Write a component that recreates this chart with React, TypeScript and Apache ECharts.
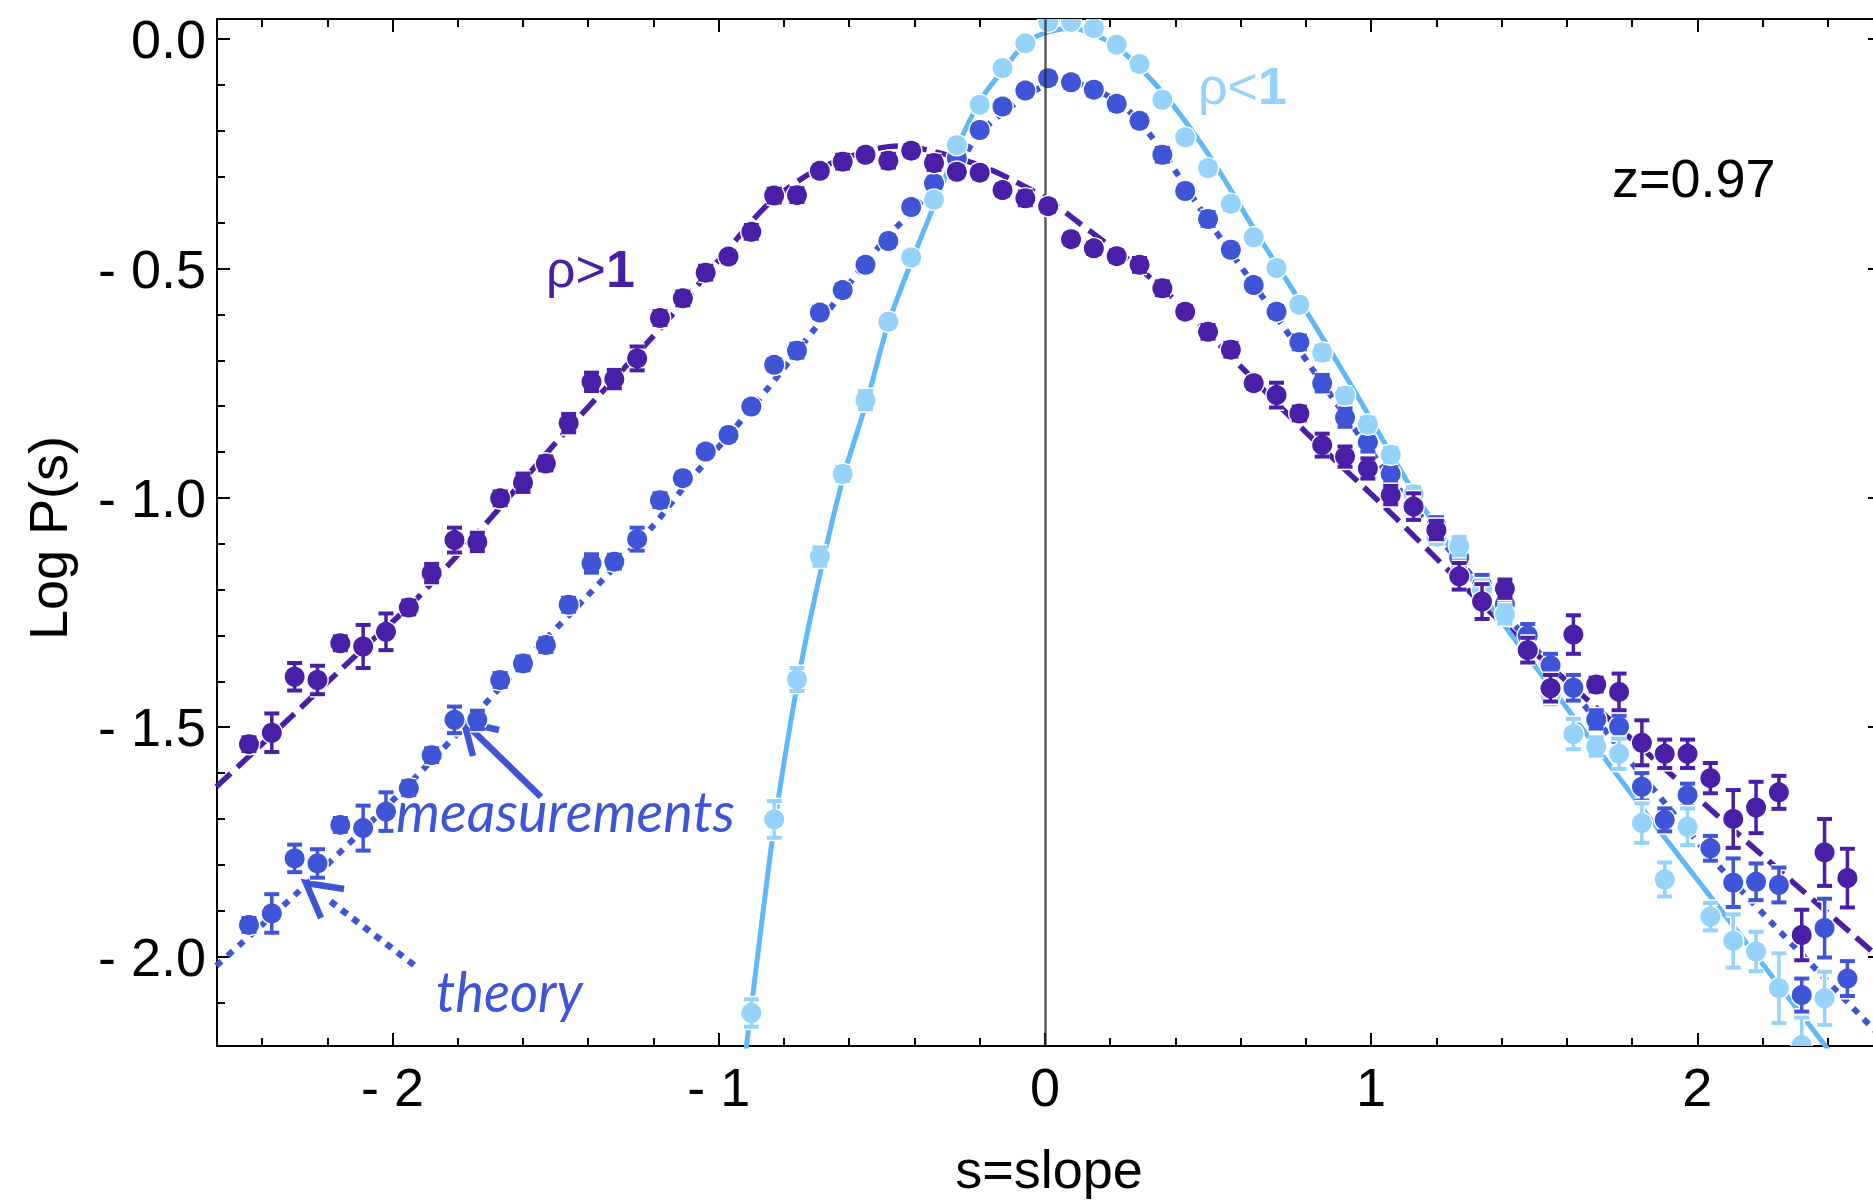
import React, { useEffect, useRef } from 'react';
import * as echarts from 'echarts';

// ---------- data ----------
const slopes = [
  -2.44, -2.37, -2.30, -2.23, -2.16, -2.09, -2.02, -1.95, -1.88, -1.81,
  -1.74, -1.67, -1.60, -1.53, -1.46, -1.39, -1.32, -1.25, -1.18, -1.11,
  -1.04, -0.97, -0.90, -0.83, -0.76, -0.69, -0.62, -0.55, -0.48, -0.41,
  -0.34, -0.27, -0.20, -0.13, -0.06, 0.01, 0.08, 0.15, 0.22, 0.29,
  0.36, 0.43, 0.50, 0.57, 0.64, 0.71, 0.78, 0.85, 0.92, 0.99,
  1.06, 1.13, 1.20, 1.27, 1.34, 1.41, 1.48, 1.55, 1.62, 1.69,
  1.76, 1.83, 1.90, 1.97, 2.04, 2.11, 2.18, 2.25, 2.32, 2.39,
  2.46,
];

// rho > 1 measurements
const highValues = [
  -1.537, -1.512, -1.390, -1.397, -1.317, -1.324, -1.292, -1.239, -1.164, -1.092,
  -1.096, -1.001, -0.967, -0.925, -0.837, -0.747, -0.741, -0.696, -0.608, -0.565,
  -0.509, -0.474, -0.420, -0.341, -0.340, -0.287, -0.267, -0.252, -0.265, -0.243,
  -0.270, -0.289, -0.291, -0.329, -0.347, -0.364, -0.436, -0.456, -0.473, -0.492,
  -0.543, -0.594, -0.638, -0.677, -0.750, -0.776, -0.816, -0.885, -0.910, -0.936,
  -0.994, -1.019, -1.070, -1.171, -1.226, -1.198, -1.332, -1.415, -1.298, -1.407,
  -1.423, -1.534, -1.558, -1.558, -1.611, -1.700, -1.675, -1.642, -1.953, -1.773,
  -1.829,
];
const highErrors = [
  0.015, 0.042, 0.030, 0.031, 0.015, 0.047, 0.040, 0.015, 0.020, 0.027,
  0.020, 0.015, 0.020, 0.015, 0.020, 0.020, 0.020, 0.026, 0.015, 0.015,
  0.015, 0.012, 0.015, 0.015, 0.015, 0.012, 0.015, 0.012, 0.015, 0.012,
  0.015, 0.012, 0.012, 0.012, 0.015, 0.012, 0.012, 0.012, 0.012, 0.015,
  0.015, 0.012, 0.015, 0.015, 0.012, 0.027, 0.015, 0.025, 0.022, 0.022,
  0.020, 0.029, 0.020, 0.029, 0.038, 0.020, 0.027, 0.029, 0.042, 0.015,
  0.040, 0.049, 0.031, 0.031, 0.033, 0.063, 0.056, 0.036, 0.055, 0.073,
  0.064,
];

// middle (z=0.97) measurements
const midValues = [
  -1.931, -1.906, -1.786, -1.797, -1.713, -1.720, -1.684, -1.633, -1.561, -1.484,
  -1.484, -1.397, -1.361, -1.321, -1.233, -1.143, -1.139, -1.090, -1.005, -0.957,
  -0.899, -0.863, -0.801, -0.710, -0.679, -0.596, -0.547, -0.492, -0.440, -0.366,
  -0.314, -0.259, -0.198, -0.147, -0.112, -0.085, -0.094, -0.110, -0.141, -0.178,
  -0.252, -0.331, -0.392, -0.459, -0.536, -0.594, -0.661, -0.750, -0.825, -0.879,
  -0.948, -0.995, -1.062, -1.130, -1.190, -1.232, -1.300, -1.365, -1.414, -1.483,
  -1.499, -1.630, -1.702, -1.648, -1.764, -1.839, -1.837, -1.844, -2.084, -1.938,
  -2.048,
];
const midErrors = [
  0.015, 0.042, 0.030, 0.031, 0.015, 0.049, 0.042, 0.015, 0.015, 0.029,
  0.020, 0.015, 0.015, 0.015, 0.015, 0.020, 0.015, 0.025, 0.015, 0.012,
  0.012, 0.012, 0.012, 0.012, 0.015, 0.012, 0.012, 0.012, 0.012, 0.012,
  0.012, 0.012, 0.012, 0.012, 0.012, 0.012, 0.012, 0.012, 0.012, 0.012,
  0.015, 0.012, 0.015, 0.012, 0.012, 0.012, 0.015, 0.018, 0.020, 0.020,
  0.020, 0.020, 0.020, 0.022, 0.022, 0.022, 0.025, 0.025, 0.028, 0.020,
  0.024, 0.030, 0.025, 0.025, 0.027, 0.053, 0.040, 0.038, 0.036, 0.064,
  0.038,
];

// rho < 1 measurements (null = outside the plotted range)
const lowValues = [
  null, null, null, null, null, null, null, null, null, null,
  null, null, null, null, null, null, null, null, null, null,
  null, null, -2.123, -1.701, -1.396, -1.128, -0.948, -0.787, -0.616, -0.476,
  -0.350, -0.231, -0.143, -0.063, -0.009, 0.038, 0.038, 0.024, -0.012, -0.054,
  -0.132, -0.214, -0.281, -0.359, -0.432, -0.499, -0.579, -0.683, -0.777, -0.840,
  -0.906, -0.992, -1.085, -1.105, -1.200, -1.254, -1.330, -1.430, -1.515, -1.542,
  -1.558, -1.709, -1.832, -1.717, -1.913, -1.966, -1.989, -2.069, -2.193, -2.091,
  null,
];
const lowErrors = [
  0, 0, 0, 0, 0, 0, 0, 0, 0, 0,
  0, 0, 0, 0, 0, 0, 0, 0, 0, 0,
  0, 0, 0.030, 0.040, 0.025, 0.020, 0.015, 0.020, 0.012, 0.012,
  0.012, 0.012, 0.012, 0.012, 0.012, 0.012, 0.012, 0.012, 0.012, 0.012,
  0.012, 0.012, 0.012, 0.012, 0.012, 0.012, 0.012, 0.015, 0.015, 0.015,
  0.015, 0.015, 0.015, 0.020, 0.020, 0.020, 0.020, 0.020, 0.033, 0.020,
  0.033, 0.043, 0.037, 0.040, 0.030, 0.058, 0.043, 0.076, 0.060, 0.058,
  0,
];

// theory curves
const highTheoryS = [-2.54, -2.3, -2.1, -1.93, -1.7, -1.5, -1.3, -1.12, -0.95, -0.84, -0.7, -0.55, -0.45, -0.34, -0.2, -0.1, 0.01, 0.1, 0.16, 0.29, 0.435, 0.58, 0.8, 1.04, 1.2, 1.37, 1.6, 1.83, 2.2, 2.57];
const highTheoryV = [-1.63, -1.47, -1.335, -1.223, -1.045, -0.88, -0.725, -0.583, -0.44, -0.354, -0.285, -0.245, -0.233, -0.245, -0.275, -0.307, -0.35, -0.398, -0.43, -0.5, -0.594, -0.699, -0.857, -1.019, -1.132, -1.252, -1.40, -1.546, -1.78, -2.01];

const midTheoryS = [-2.54, -2.26, -2.0, -1.8, -1.6, -1.415, -1.2, -1.117, -0.895, -0.75, -0.615, -0.5, -0.403, -0.27, -0.2, -0.1, 0.0, 0.05, 0.12, 0.22, 0.29, 0.36, 0.43, 0.5, 0.57, 0.71, 0.85, 1.088, 1.3, 1.64, 2.05, 2.57];
const midTheoryV = [-2.02, -1.84, -1.66, -1.513, -1.36, -1.223, -1.06, -0.986, -0.801, -0.672, -0.547, -0.445, -0.372, -0.278, -0.205, -0.145, -0.10, -0.092, -0.10, -0.135, -0.18, -0.245, -0.32, -0.395, -0.465, -0.605, -0.75, -0.983, -1.163, -1.441, -1.79, -2.18];

const lowTheoryS = [-0.93, -0.9, -0.86, -0.83, -0.76, -0.7, -0.62, -0.545, -0.48, -0.403, -0.33, -0.265, -0.197, -0.12, -0.054, 0.016, 0.087, 0.15, 0.22, 0.363, 0.506, 0.649, 0.792, 0.935, 1.139, 1.389, 1.6, 1.843, 2.1, 2.395, 2.45];
const lowTheoryV = [-2.28, -2.11, -1.88, -1.715, -1.41, -1.20, -0.96, -0.787, -0.62, -0.474, -0.345, -0.23, -0.132, -0.06, -0.005, 0.017, 0.024, 0.01, -0.016, -0.118, -0.256, -0.423, -0.583, -0.750, -0.997, -1.259, -1.458, -1.688, -1.924, -2.197, -2.25];

// ticks
const xMajorTicks = [-2, -1, 0, 1, 2];
const xMinorTicks = [-2.4, -2.2, -1.8, -1.6, -1.4, -1.2, -0.8, -0.6, -0.4, -0.2, 0.2, 0.4, 0.6, 0.8, 1.2, 1.4, 1.6, 1.8, 2.2, 2.4];
const yMajorTicks = [0, -0.5, -1, -1.5, -2];
const yMinorTicks = [-0.1, -0.2, -0.3, -0.4, -0.6, -0.7, -0.8, -0.9, -1.1, -1.2, -1.3, -1.4, -1.6, -1.7, -1.8, -1.9, -2.1];

// ---------- style ----------
const X_MIN = -2.538;
const X_MAX = 2.563;
const Y_MIN = -2.195;
const Y_MAX = 0.044;

const C_HIGH = '#4a1ea6';
const C_MID = '#3d55d6';
const C_LOW = '#96d3fb';
const C_LOW_LINE = '#5fb8f9';
const FONT = '"Liberation Sans", Arial, Helvetica, sans-serif';

const fmtY = (v: number) => (Math.abs(v) < 1e-9 ? '0.0' : (v < 0 ? '- ' : '') + Math.abs(v).toFixed(1));
const fmtX = (v: number) => (Math.abs(v) < 1e-9 ? '0' : (v < 0 ? '- ' : '') + Math.abs(v).toFixed(0));

function xAxisDef(position: string, ticks: number[], len: number, showLine: boolean, showLabel: boolean) {
  return {
    type: 'value',
    position,
    min: X_MIN,
    max: X_MAX,
    splitLine: { show: false },
    axisLine: { show: showLine, onZero: false, lineStyle: { color: '#000', width: 2 } },
    axisTick: { show: true, inside: true, length: len, customValues: ticks, lineStyle: { color: '#000', width: 2 } },
    axisLabel: {
      show: showLabel,
      customValues: ticks,
      formatter: fmtX,
      fontSize: 54,
      fontFamily: FONT,
      color: '#000',
      margin: 14,
    },
  };
}

function yAxisDef(position: string, ticks: number[], len: number, showLine: boolean, showLabel: boolean) {
  return {
    type: 'value',
    position,
    min: Y_MIN,
    max: Y_MAX,
    splitLine: { show: false },
    axisLine: { show: showLine, onZero: false, lineStyle: { color: '#000', width: 2 } },
    axisTick: { show: true, inside: true, length: len, customValues: ticks, lineStyle: { color: '#000', width: 2 } },
    axisLabel: {
      show: showLabel,
      customValues: ticks,
      formatter: fmtY,
      fontSize: 54,
      fontFamily: FONT,
      color: '#000',
      margin: 11,
      padding: [0, 0, 5, 0],
    },
  };
}

function theorySeries(name: string, S: number[], V: number[], color: string, dash: any, width: number) {
  return {
    type: 'line',
    name,
    data: S.map((s, i) => [s, V[i]]),
    xAxisIndex: 0,
    yAxisIndex: 0,
    showSymbol: false,
    symbol: 'none',
    smooth: 0.3,
    clip: true,
    silent: true,
    z: 2,
    lineStyle: { color, width, type: dash, cap: 'butt' },
  };
}

function pointSeries(name: string, values: (number | null)[], errors: number[], color: string, z: number) {
  const data: number[][] = [];
  slopes.forEach((s, i) => {
    const v = values[i];
    if (v === null || v === undefined) return;
    data.push([s, v, errors[i]]);
  });
  return {
    type: 'custom',
    name,
    data,
    xAxisIndex: 0,
    yAxisIndex: 0,
    clip: true,
    silent: true,
    z,
    renderItem: (_p: any, api: any) => {
      const s = api.value(0);
      const v = api.value(1);
      const e = api.value(2);
      const c = api.coord([s, v]);
      const hi = api.coord([s, v + e]);
      const lo = api.coord([s, v - e]);
      const hw = 7.5;
      const mk = (stroke: string, extra: number) => [
        { type: 'line', shape: { x1: c[0], y1: hi[1], x2: c[0], y2: lo[1] }, style: { stroke, lineWidth: 3.5 + extra } },
        { type: 'line', shape: { x1: c[0] - hw, y1: hi[1], x2: c[0] + hw, y2: hi[1] }, style: { stroke, lineWidth: 4 + extra } },
        { type: 'line', shape: { x1: c[0] - hw, y1: lo[1], x2: c[0] + hw, y2: lo[1] }, style: { stroke, lineWidth: 4 + extra } },
      ];
      return {
        type: 'group',
        children: [
          ...mk('#ffffff', 3),
          { type: 'circle', shape: { cx: c[0], cy: c[1], r: 11.4 }, style: { fill: '#ffffff' } },
          ...mk(color, 0),
          { type: 'circle', shape: { cx: c[0], cy: c[1], r: 10 }, style: { fill: color } },
        ],
      };
    },
  };
}

export default function App() {
  const ref = useRef<HTMLDivElement>(null);
  useEffect(() => {
    document.body.style.margin = '0';
    document.body.style.overflow = 'hidden';
    document.documentElement.style.overflow = 'hidden';
    const chart = echarts.init(ref.current as HTMLDivElement, null, { renderer: 'svg' });
    const option: any = {
      animation: false,
      backgroundColor: '#ffffff',
      grid: { left: 217, top: 19, width: 1664, height: 1027, containLabel: false },
      xAxis: [
        xAxisDef('bottom', xMajorTicks, 13, true, true),
        xAxisDef('bottom', xMinorTicks, 8, false, false),
        xAxisDef('top', xMajorTicks, 13, true, false),
        xAxisDef('top', xMinorTicks, 8, false, false),
      ],
      yAxis: [
        yAxisDef('left', yMajorTicks, 13, true, true),
        yAxisDef('left', yMinorTicks, 8, false, false),
        yAxisDef('right', yMajorTicks, 13, true, false),
        yAxisDef('right', yMinorTicks, 8, false, false),
      ],
      series: [
        theorySeries('ρ>1 theory', highTheoryS, highTheoryV, C_HIGH, [20, 9], 5.5),
        theorySeries('middle theory', midTheoryS, midTheoryV, C_MID, [7, 8], 6),
        theorySeries('ρ<1 theory', lowTheoryS, lowTheoryV, C_LOW_LINE, 'solid', 5),
        pointSeries('middle', midValues, midErrors, C_MID, 3),
        pointSeries('ρ<1', lowValues, lowErrors, C_LOW, 4),
        pointSeries('ρ>1', highValues, highErrors, C_HIGH, 5),
        {
          type: 'line',
          name: 'axis s=0',
          data: [],
          xAxisIndex: 0,
          yAxisIndex: 0,
          z: 10,
          silent: true,
          markLine: {
            silent: true,
            symbol: ['none', 'none'],
            label: { show: false },
            lineStyle: { color: 'rgba(40,40,40,0.75)', width: 2.5, type: 'solid' },
            data: [{ xAxis: 0 }],
          },
        },
      ],
      graphic: [
        {
          type: 'text', x: 48, y: 538, rotation: Math.PI / 2,
          style: { text: 'Log P(s)', fill: '#000', fontSize: 54, fontFamily: FONT, align: 'center', verticalAlign: 'middle' },
        },
        {
          type: 'text', x: 1049, y: 1169,
          style: { text: 's=slope', fill: '#000', fontSize: 54, fontFamily: FONT, align: 'center', verticalAlign: 'middle' },
        },
        {
          type: 'text', x: 1612, y: 178,
          style: { text: 'z=0.97', fill: '#000', fontSize: 54, fontFamily: FONT, align: 'left', verticalAlign: 'middle' },
        },
        {
          type: 'text', x: 546, y: 269,
          style: {
            text: '{a|ρ>}{b|1}', fill: C_HIGH, fontSize: 52, fontFamily: FONT, align: 'left', verticalAlign: 'middle',
            rich: {
              a: { fill: C_HIGH, fontSize: 52, fontFamily: FONT },
              b: { fill: C_HIGH, fontSize: 52, fontFamily: FONT, fontWeight: 'bold' },
            },
          },
        },
        {
          type: 'text', x: 1198, y: 86,
          style: {
            text: '{a|ρ<}{b|1}', fill: C_LOW, fontSize: 52, fontFamily: FONT, align: 'left', verticalAlign: 'middle',
            rich: {
              a: { fill: C_LOW, fontSize: 52, fontFamily: FONT },
              b: { fill: C_LOW, fontSize: 52, fontFamily: FONT, fontWeight: 'bold' },
            },
          },
        },
        {
          type: 'text', x: 396, y: 810,
          style: { text: 'measurements', fill: C_MID, fontSize: 56, fontFamily: 'Lato, "Open Sans", sans-serif', fontStyle: 'italic', align: 'left', verticalAlign: 'middle' },
        },
        {
          type: 'text', x: 436, y: 991, scaleX: 0.97,
          style: { text: 'theory', fill: C_MID, fontSize: 56, fontFamily: 'Lato, "Open Sans", sans-serif', fontStyle: 'italic', align: 'left', verticalAlign: 'middle' },
        },
        // measurements arrow
        { type: 'line', shape: { x1: 541, y1: 797, x2: 467, y2: 725 }, style: { stroke: C_MID, lineWidth: 6.5 } },
        { type: 'polyline', shape: { points: [[473, 756], [464, 722], [499, 730]] }, style: { stroke: C_MID, lineWidth: 6.5, fill: 'none', lineJoin: 'miter' } },
        // theory arrow (dotted)
        { type: 'line', shape: { x1: 414, y1: 965, x2: 326, y2: 898 }, style: { stroke: C_MID, lineWidth: 6.5, lineDash: [7, 7] } },
        { type: 'polyline', shape: { points: [[321, 918], [306, 883], [344, 889]] }, style: { stroke: C_MID, lineWidth: 6.5, fill: 'none', lineJoin: 'miter' } },
      ],
    };
    chart.setOption(option);
    return () => chart.dispose();
  }, []);
  return <div ref={ref} style={{ width: 1890, height: 1200 }} />;
}
